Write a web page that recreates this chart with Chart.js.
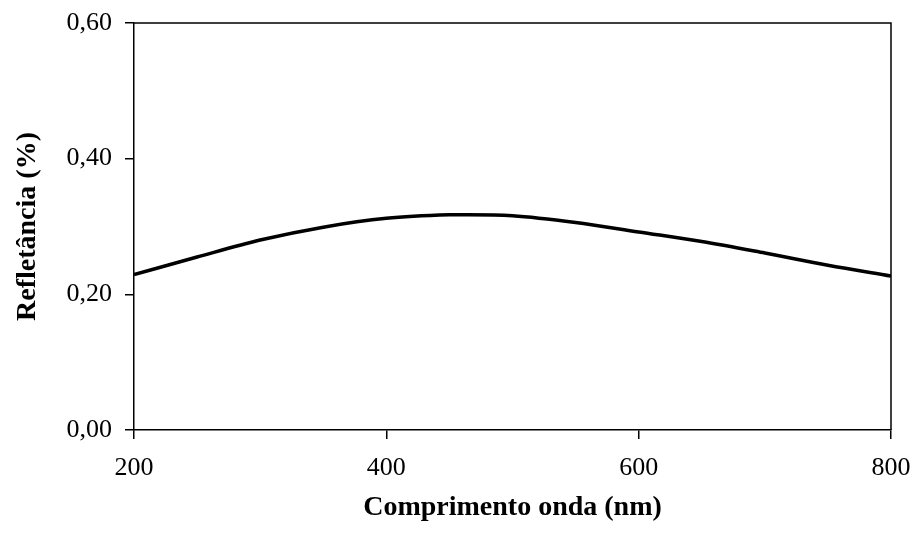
<!DOCTYPE html>
<html>
<head>
<meta charset="utf-8">
<script src="https://cdn.jsdelivr.net/npm/chart.js@4/dist/chart.umd.min.js"></script>
<style>
  html, body { margin: 0; padding: 0; background: #fff; }
  #wrap { width: 914px; height: 548px; }
</style>
</head>
<body>
<div id="wrap"><canvas id="c" width="914" height="548"></canvas></div>
<script>
// Reflectance spectrum, wavelength (nm) vs reflectance
const wavelengths = [200, 250, 300, 350, 400, 450, 465, 500, 550, 600, 650, 700, 750, 800];
const reflectance = [0.229, 0.255, 0.280, 0.299, 0.312, 0.3172, 0.3175, 0.316, 0.306, 0.292, 0.278, 0.261, 0.243, 0.227];
const xTicks = [200, 400, 600, 800];
const yTicks = [0.00, 0.20, 0.40, 0.60];

const points = wavelengths.map((w, i) => ({ x: w, y: reflectance[i] }));

// closes the plot frame on the top and right
const frame = {
  id: 'frame',
  afterDraw(chart) {
    const { ctx, chartArea: a } = chart;
    ctx.save();
    ctx.strokeStyle = '#000';
    ctx.lineWidth = 1.5;
    ctx.beginPath();
    ctx.moveTo(a.left, a.top);
    ctx.lineTo(a.right, a.top);
    ctx.lineTo(a.right, a.bottom);
    ctx.stroke();
    ctx.restore();
  }
};

const serif = '"Liberation Serif", "Times New Roman", serif';

new Chart(document.getElementById('c'), {
  type: 'line',
  data: {
    datasets: [{
      data: points,
      borderColor: '#000',
      borderWidth: 3.5,
      pointRadius: 0,
      fill: false,
      cubicInterpolationMode: 'monotone'
    }]
  },
  options: {
    responsive: false,
    animation: false,
    layout: { padding: { top: 23, right: 23, bottom: 0, left: 0 } },
    plugins: { legend: { display: false }, tooltip: { enabled: false } },
    scales: {
      x: {
        type: 'linear',
        min: xTicks[0],
        max: xTicks[xTicks.length - 1],
        afterBuildTicks(s) { s.ticks = xTicks.map(v => ({ value: v })); },
        afterFit(s) { s.height = 118; s.paddingLeft = 0; s.paddingRight = 0; },
        ticks: {
          color: '#000',
          font: { family: serif, size: 26 },
          padding: 14,
          maxRotation: 0,
          callback: v => String(v)
        },
        grid: { drawOnChartArea: false, tickLength: 9, color: '#000', lineWidth: 1.5 },
        border: { color: '#000', width: 1.5 },
        title: {
          display: true,
          text: 'Comprimento onda (nm)',
          color: '#000',
          font: { family: serif, size: 28, weight: 'bold' },
          padding: { top: 0, bottom: 23 }
        }
      },
      y: {
        min: yTicks[0],
        max: yTicks[yTicks.length - 1],
        afterBuildTicks(s) { s.ticks = yTicks.map(v => ({ value: v })); },
        afterFit(s) { s.width = 134; s.paddingTop = 0; s.paddingBottom = 0; },
        ticks: {
          color: '#000',
          font: { family: serif, size: 26 },
          padding: 13,
          callback: v => v.toFixed(2).replace('.', ',')
        },
        grid: { drawOnChartArea: false, tickLength: 9, color: '#000', lineWidth: 1.5 },
        border: { color: '#000', width: 1.5 },
        title: {
          display: true,
          text: 'Refletância (%)',
          color: '#000',
          font: { family: serif, size: 28, weight: 'bold' },
          padding: { top: 11, bottom: 0 }
        }
      }
    }
  },
  plugins: [frame]
});
</script>
</body>
</html>
